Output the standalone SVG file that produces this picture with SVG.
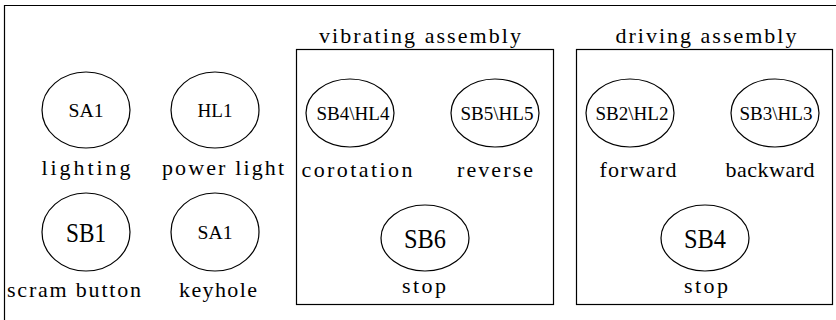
<svg xmlns="http://www.w3.org/2000/svg" width="836" height="320" viewBox="0 0 836 320">
<style>
.bx{fill:none;stroke:#000;stroke-width:1.2}
.el{fill:#fff;stroke:#000;stroke-width:1.2}
.lb{font-family:"Liberation Serif",serif;font-size:22px;fill:#000}
.sm{font-family:"Liberation Serif",serif;font-size:19px;fill:#000}
.bg{font-family:"Liberation Serif",serif;font-size:28px;fill:#000}
</style>
<rect width="836" height="320" fill="#fff"/>
<path class="bx" d="M4.5,320 V5.5 H836"/>
<g id="vibrating-assembly">
<rect class="bx" x="296.5" y="49.5" width="257" height="255"/>
<text class="lb" x="420" y="43" text-anchor="middle" textLength="202" lengthAdjust="spacing">vibrating assembly</text>
</g>
<g id="driving-assembly">
<rect class="bx" x="576.5" y="49.5" width="256" height="255"/>
<text class="lb" x="706" y="43" text-anchor="middle" textLength="181" lengthAdjust="spacing">driving assembly</text>
</g>
<g id="sa1-lighting">
<ellipse class="el" cx="86" cy="110" rx="44" ry="38"/>
<text class="sm" x="86" y="117" text-anchor="middle" textLength="35" lengthAdjust="spacingAndGlyphs">SA1</text>
<text class="lb" x="86" y="175" text-anchor="middle" textLength="89" lengthAdjust="spacing">lighting</text>
</g>
<g id="hl1-power-light">
<ellipse class="el" cx="215" cy="110" rx="44" ry="38"/>
<text class="sm" x="215" y="117" text-anchor="middle" textLength="35" lengthAdjust="spacingAndGlyphs">HL1</text>
<text class="lb" x="223" y="175" text-anchor="middle" textLength="122" lengthAdjust="spacing">power light</text>
</g>
<g id="sb1-scram-button">
<ellipse class="el" cx="86" cy="232" rx="44" ry="39"/>
<text class="bg" x="86" y="242" text-anchor="middle" textLength="40" lengthAdjust="spacingAndGlyphs">SB1</text>
<text class="lb" x="74" y="297" text-anchor="middle" textLength="134" lengthAdjust="spacing">scram button</text>
</g>
<g id="sa1-keyhole">
<ellipse class="el" cx="215" cy="232" rx="44" ry="39"/>
<text class="sm" x="215" y="239" text-anchor="middle" textLength="35" lengthAdjust="spacingAndGlyphs">SA1</text>
<text class="lb" x="218" y="297" text-anchor="middle" textLength="78" lengthAdjust="spacing">keyhole</text>
</g>
<g id="sb4-hl4-corotation">
<ellipse class="el" cx="350" cy="113" rx="44" ry="34"/>
<text class="sm" x="353" y="120" text-anchor="middle" textLength="73" lengthAdjust="spacingAndGlyphs">SB4\HL4</text>
<text class="lb" x="357" y="177" text-anchor="middle" textLength="111" lengthAdjust="spacing">corotation</text>
</g>
<g id="sb5-hl5-reverse">
<ellipse class="el" cx="495" cy="113" rx="44" ry="34"/>
<text class="sm" x="497" y="120" text-anchor="middle" textLength="73" lengthAdjust="spacingAndGlyphs">SB5\HL5</text>
<text class="lb" x="495" y="177" text-anchor="middle" textLength="76" lengthAdjust="spacing">reverse</text>
</g>
<g id="sb6-stop">
<ellipse class="el" cx="425" cy="238" rx="44" ry="33"/>
<text class="bg" x="425" y="248" text-anchor="middle" textLength="42" lengthAdjust="spacingAndGlyphs">SB6</text>
<text class="lb" x="424" y="293" text-anchor="middle" textLength="44" lengthAdjust="spacing">stop</text>
</g>
<g id="sb2-hl2-forward">
<ellipse class="el" cx="630" cy="113" rx="44" ry="34"/>
<text class="sm" x="632" y="120" text-anchor="middle" textLength="73" lengthAdjust="spacingAndGlyphs">SB2\HL2</text>
<text class="lb" x="638" y="177" text-anchor="middle" textLength="77" lengthAdjust="spacing">forward</text>
</g>
<g id="sb3-hl3-backward">
<ellipse class="el" cx="775" cy="113" rx="44" ry="34"/>
<text class="sm" x="776" y="120" text-anchor="middle" textLength="73" lengthAdjust="spacingAndGlyphs">SB3\HL3</text>
<text class="lb" x="770" y="177" text-anchor="middle" textLength="89" lengthAdjust="spacing">backward</text>
</g>
<g id="sb4-stop">
<ellipse class="el" cx="705" cy="238" rx="44" ry="33"/>
<text class="bg" x="705" y="248" text-anchor="middle" textLength="42" lengthAdjust="spacingAndGlyphs">SB4</text>
<text class="lb" x="706" y="293" text-anchor="middle" textLength="44" lengthAdjust="spacing">stop</text>
</g>
<g id="connectors"></g>
</svg>
